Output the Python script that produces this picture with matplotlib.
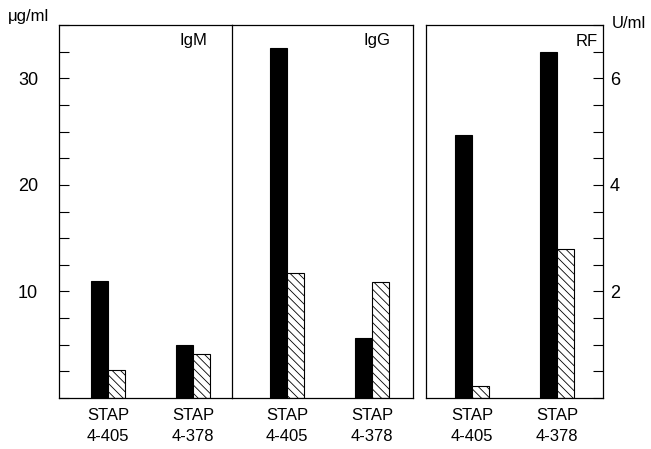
import numpy as np
import matplotlib.pyplot as plt
from matplotlib.ticker import MultipleLocator, FixedLocator

plt.rcParams['font.family'] = ['Liberation Sans', 'DejaVu Sans']
plt.rcParams['hatch.linewidth'] = 0.6

categories = ['STAP\n4-405', 'STAP\n4-378']
igm_black = [11.0, 5.0]
igm_hatch = [2.6, 4.1]
igg_black = [32.8, 5.6]
igg_hatch = [11.7, 10.9]
rf_black = [4.93, 6.5]
rf_hatch = [0.22, 2.8]

W, H = 651, 449
fig = plt.figure(figsize=(W / 100, H / 100), dpi=100)


def px_axes(x0, x1, y0=25, y1=398):
    return fig.add_axes([x0 / W, (H - y1) / H, (x1 - x0) / W, (y1 - y0) / H])


ax1 = px_axes(59, 232)
ax2 = px_axes(232, 413)
ax3 = px_axes(426, 603)

panels = [
    (ax1, igm_black, igm_hatch, 'IgM', (-0.576, 1.459), 0.858),
    (ax2, igg_black, igg_hatch, 'IgG', (-0.647, 1.482), 0.876),
    (ax3, rf_black, rf_hatch, 'RF', (-0.541, 1.541), 0.968),
]

bw = 0.2
x = np.arange(len(categories))
for ax, blk, hat, name, xl, lx in panels:
    ax.bar(x - bw / 2, blk, width=bw, color='black', edgecolor='black', linewidth=0.8)
    ax.bar(x + bw / 2, hat, width=bw, color='white', edgecolor='black', linewidth=0.8,
           hatch='\\\\\\\\')
    ax.set_xlim(*xl)
    ax.set_xticks(x)
    ax.set_xticklabels(categories, fontsize=12)
    for lab in ax.get_xticklabels():
        lab.set_linespacing(1.55)
    ax.tick_params(axis='x', length=0, pad=7)
    ax.text(lx, 1 - 16 / 373, name, transform=ax.transAxes, ha='right', va='center',
            fontsize=12)
    for s in ax.spines.values():
        s.set_linewidth(0.9)

ax1.set_ylim(0, 35)
ax2.set_ylim(0, 35)
ax1.yaxis.set_major_locator(FixedLocator([10, 20, 30]))
ax1.yaxis.set_minor_locator(MultipleLocator(2.5))
ax1.tick_params(axis='y', which='both', direction='in', length=7, width=0.8, pad=15,
                labelsize=13)
ax1.spines['right'].set_visible(False)
ax2.set_yticks([])
ax2.tick_params(axis='y', which='both', left=False)

ax3.set_ylim(0, 7)
ax3.yaxis.tick_right()
ax3.yaxis.set_major_locator(FixedLocator([2, 4, 6]))
ax3.yaxis.set_minor_locator(MultipleLocator(0.5))
ax3.tick_params(axis='y', which='both', direction='in', length=7, width=0.8, pad=5,
                labelsize=13)

fig.text(8 / W, 1 - 16 / H, 'μg/ml', ha='left', va='center', fontsize=12)
fig.text(612 / W, 1 - 24 / H, 'U/ml', ha='left', va='center', fontsize=12)

fig.savefig('out.png', dpi=100)
